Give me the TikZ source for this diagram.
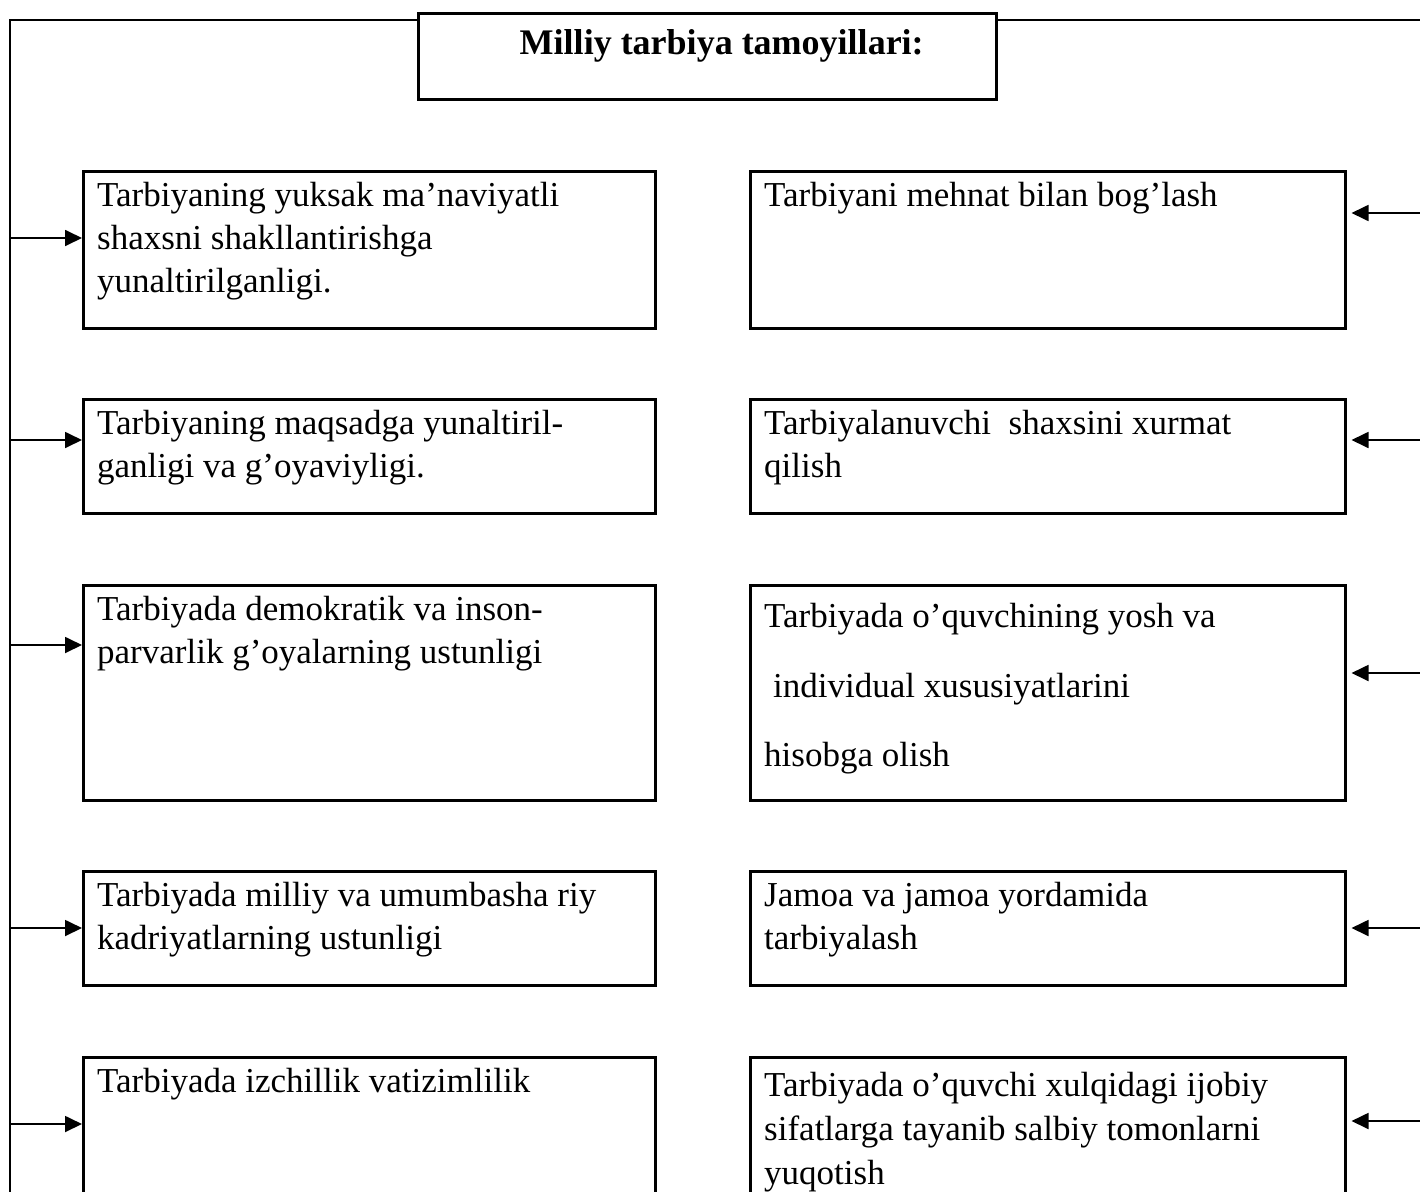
\documentclass[tikz,border=0pt]{standalone}
\usepackage{fontspec}
\setmainfont{Liberation Serif}
\usetikzlibrary{arrows.meta}

\begin{document}
\begin{tikzpicture}[x=1pt,y=-1pt,
  box/.style={draw,line width=2.5pt,rectangle,anchor=north west,inner sep=0pt},
  lbox/.style={box,minimum width=572pt},
  rbox/.style={box,minimum width=595pt},
  txt/.style={anchor=north west,inner sep=0pt,align=left,font=\fontsize{35}{43}\selectfont},
  trunk/.style={line width=2.4pt},
  arr/.style={line width=1.8pt,-{Triangle[length=17pt,width=16pt]}}]
  \useasboundingbox (0,0) rectangle (1420,1191);
  \clip (0,0) rectangle (1420,1191);
  % title
  \node[box,line width=3.4pt,minimum width=578pt,minimum height=86pt] (ttl) at (417,12) {};
  \node[anchor=base,inner sep=0pt,font=\fontsize{36}{43}\selectfont\bfseries] (ttltxt)
    at ([xshift=14pt,yshift=-42pt]ttl.north) {Milliy tarbiya tamoyillari:};
  \coordinate (lt) at (10,20);
  \coordinate (lb) at (10,1200);
  \coordinate (rt) at (1421,20);
  \draw[trunk] (lt -| ttl.west) -- (lt) -- (lb);
  \draw[trunk] (rt -| ttl.east) -- (rt);
  % left column
  \node[lbox,minimum height=157pt] (l1) at (82,170) {}; %L1
  \node[lbox,minimum height=114pt] (l2) at (82,398) {}; %L2
  \node[lbox,minimum height=215pt] (l3) at (82,584) {}; %L3
  \node[lbox,minimum height=114pt] (l4) at (82,870) {}; %L4
  \node[lbox,minimum height=160pt] (l5) at (82,1056) {}; %L5
  \node[txt] (lt1) at ([xshift=15pt,yshift=-12pt]l1.north west)
    {Tarbiyaning yuksak ma’naviyatli\\shaxsni shakllantirishga\\yunaltirilganligi.};
  \node[txt] (lt2) at ([xshift=15pt,yshift=-12pt]l2.north west)
    {Tarbiyaning maqsadga yunaltiril-\\ganligi va g’oyaviyligi.};
  \node[txt] (lt3) at ([xshift=15pt,yshift=-12pt]l3.north west)
    {Tarbiyada demokratik va inson-\\parvarlik g’oyalarning ustunligi};
  \node[txt] (lt4) at ([xshift=15pt,yshift=-12pt]l4.north west)
    {Tarbiyada milliy va umumbasha riy\\kadriyatlarning ustunligi};
  \node[txt] (lt5) at ([xshift=15pt,yshift=-12pt]l5.north west)
    {Tarbiyada izchillik vatizimlilik};
  % right column
  \node[rbox,minimum height=157pt] (r1) at (749,170) {}; %R1
  \node[rbox,minimum height=114pt] (r2) at (749,398) {}; %R2
  \node[rbox,minimum height=215pt] (r3) at (749,584) {}; %R3
  \node[rbox,minimum height=114pt] (r4) at (749,870) {}; %R4
  \node[rbox,minimum height=160pt] (r5) at (749,1056) {}; %R5
  \node[txt] (rt1) at ([xshift=15pt,yshift=-12pt]r1.north west)
    {Tarbiyani mehnat bilan bog’lash};
  \node[txt] (rt2) at ([xshift=15pt,yshift=-12pt]r2.north west)
    {Tarbiyalanuvchi\ \ shaxsini xurmat\\qilish};
  \node[txt] (rt3) at ([xshift=15pt,yshift=-19pt]r3.north west)
    {Tarbiyada o’quvchining yosh va\\[27pt]\hspace*{9pt}individual xususiyatlarini\\[26pt]hisobga olish};
  \node[txt] (rt4) at ([xshift=15pt,yshift=-12pt]r4.north west)
    {Jamoa va jamoa yordamida\\tarbiyalash};
  \node[txt,font=\fontsize{35}{44}\selectfont] (rt5) at ([xshift=15pt,yshift=-16pt]r5.north west)
    {Tarbiyada o’quvchi xulqidagi ijobiy\\sifatlarga tayanib salbiy tomonlarni\\yuqotish};
  % arrows
  \coordinate (p1) at (10,238);
  \coordinate (p2) at (10,440);
  \coordinate (p3) at (10,645);
  \coordinate (p4) at (10,928);
  \coordinate (p5) at (10,1124);
  \coordinate (q1) at (1420,213);
  \coordinate (q2) at (1420,440);
  \coordinate (q3) at (1420,673);
  \coordinate (q4) at (1420,928);
  \coordinate (q5) at (1420,1121);
  \foreach \i in {1,...,5} {
    \draw[arr] (p\i) -- (p\i -| l\i.west);
    \draw[arr] (q\i) -- ([xshift=5pt]q\i -| r\i.east);
  }
\end{tikzpicture}
\end{document}
